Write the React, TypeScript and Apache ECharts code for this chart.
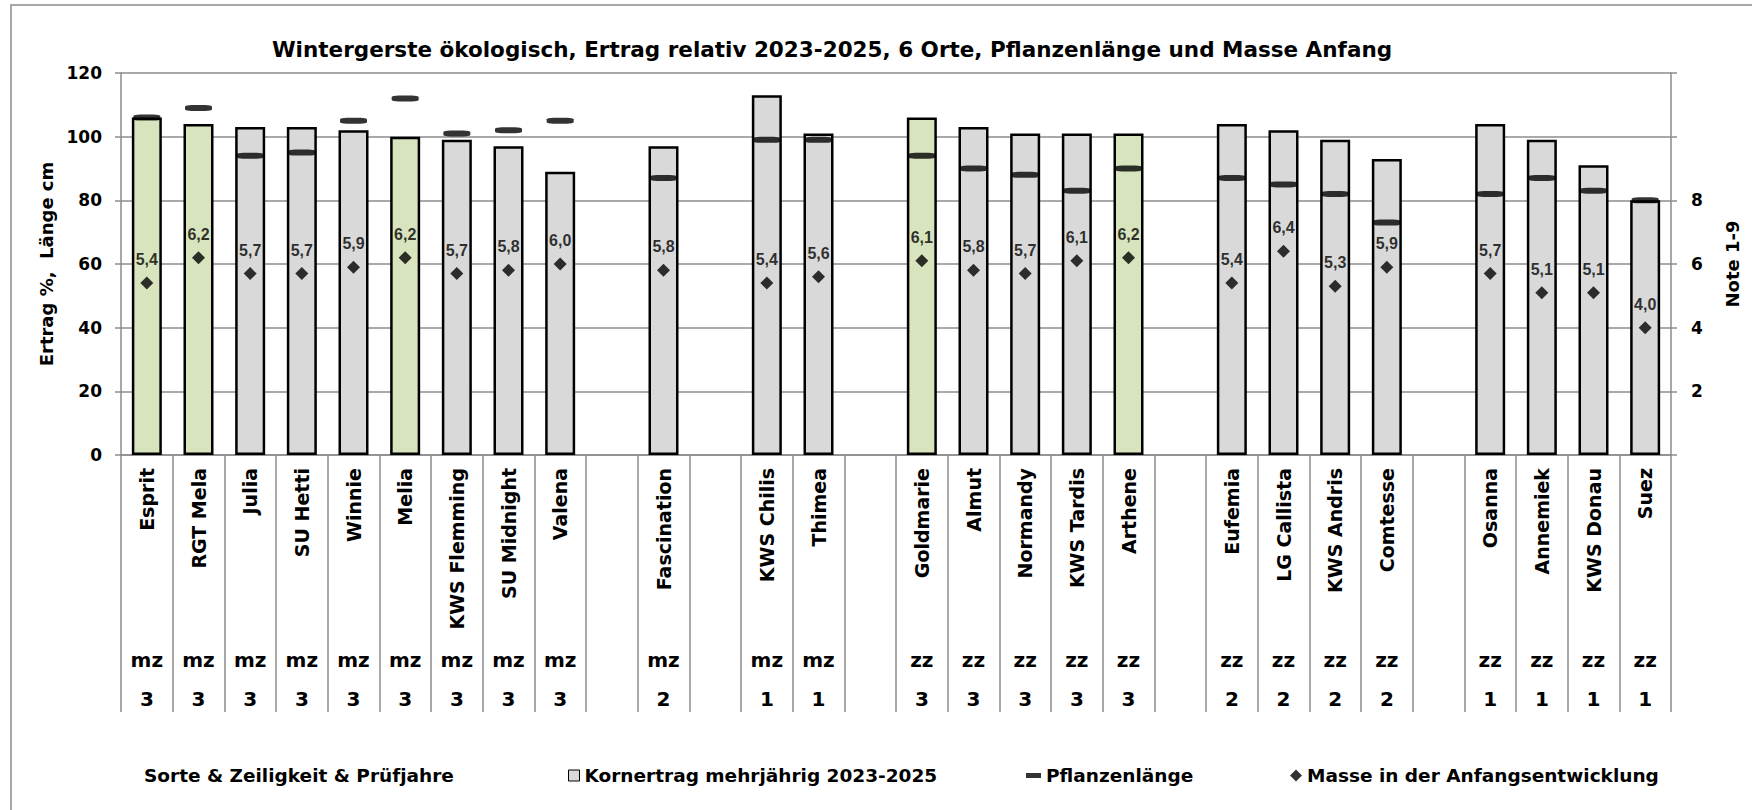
import React, { useEffect, useRef } from 'react';
import * as echarts from 'echarts';

const varieties = [
  'Esprit', 'RGT Mela', 'Julia', 'SU Hetti', 'Winnie', 'Melia', 'KWS Flemming', 'SU Midnight', 'Valena', ' ',
  'Fascination', '  ',
  'KWS Chilis', 'Thimea', '   ',
  'Goldmarie', 'Almut', 'Normandy', 'KWS Tardis', 'Arthene', '    ',
  'Eufemia', 'LG Callista', 'KWS Andris', 'Comtesse', '     ',
  'Osanna', 'Annemiek', 'KWS Donau', 'Suez',
];
const rowType = [
  'mz', 'mz', 'mz', 'mz', 'mz', 'mz', 'mz', 'mz', 'mz', '',
  'mz', '',
  'mz', 'mz', '',
  'zz', 'zz', 'zz', 'zz', 'zz', '',
  'zz', 'zz', 'zz', 'zz', '',
  'zz', 'zz', 'zz', 'zz',
];
const testYears = [
  '3', '3', '3', '3', '3', '3', '3', '3', '3', '',
  '2', '',
  '1', '1', '',
  '3', '3', '3', '3', '3', '',
  '2', '2', '2', '2', '',
  '1', '1', '1', '1',
];
const yieldRel = [
  106, 104, 103, 103, 102, 100, 99, 97, 89, null,
  97, null,
  113, 101, null,
  106, 103, 101, 101, 101, null,
  104, 102, 99, 93, null,
  104, 99, 91, 80,
];
const plantHeight = [
  106, 109, 94, 95, 105, 112, 101, 102, 105, null,
  87, null,
  99, 99, null,
  94, 90, 88, 83, 90, null,
  87, 85, 82, 73, null,
  82, 87, 83, 80,
];
const earlyMass = [
  5.4, 6.2, 5.7, 5.7, 5.9, 6.2, 5.7, 5.8, 6.0, null,
  5.8, null,
  5.4, 5.6, null,
  6.1, 5.8, 5.7, 6.1, 6.2, null,
  5.4, 6.4, 5.3, 5.9, null,
  5.7, 5.1, 5.1, 4.0,
];
const checkVarieties = ['Esprit', 'RGT Mela', 'Melia', 'Goldmarie', 'Arthene'];

const TITLE = 'Wintergerste ökologisch, Ertrag relativ 2023-2025, 6 Orte, Pflanzenlänge und Masse Anfang';
const S_SORTE = 'Sorte & Zeiligkeit & Prüfjahre';
const S_YIELD = 'Kornertrag mehrjährig 2023-2025';
const S_HEIGHT = 'Pflanzenlänge';
const S_MASS = 'Masse in der Anfangsentwicklung';

const GREEN = '#d7e4bd';
const GRAY = '#d9d9d9';
const LINE = '#8c8c8c';
const FONT = 'DejaVu Sans';

export default function App() {
  const ref = useRef<HTMLDivElement>(null);
  useEffect(() => {
    const chart = echarts.init(ref.current as HTMLDivElement, null, { renderer: 'svg' });
    const bold = { fontFamily: FONT, fontWeight: 'bold' as const, color: '#000' };
    const legendBase = {
      top: 766,
      padding: 0,
      itemGap: 0,
      selectedMode: false,
      textStyle: { ...bold, fontSize: 18.5 },
    };
    chart.setOption({
      animation: false,
      backgroundColor: '#fff',
      graphic: [
        {
          type: 'rect',
          silent: true,
          z: -10,
          shape: { x: 11, y: 5, width: 1760, height: 820 },
          style: { fill: 'none', stroke: LINE, lineWidth: 1.5 },
        },
        {
          type: 'text',
          x: 832,
          y: 49,
          silent: true,
          style: {
            text: TITLE,
            fill: '#000',
            font: `bold 21.5px "${FONT}"`,
            align: 'center',
            verticalAlign: 'middle',
            textAlign: 'center',
            textVerticalAlign: 'middle',
          },
        },
      ],
      legend: [
        { ...legendBase, left: 139, data: [{ name: S_SORTE, icon: 'none' }], itemWidth: 0, itemHeight: 11 },
        {
          ...legendBase, left: 568, itemWidth: 11, itemHeight: 11,
          data: [{ name: S_YIELD, icon: 'rect', itemStyle: { color: GRAY, borderColor: '#000', borderWidth: 1 } }],
        },
        {
          ...legendBase, left: 1026, itemWidth: 15, itemHeight: 5,
          data: [{ name: S_HEIGHT, icon: 'rect', itemStyle: { color: '#000' } }],
        },
        {
          ...legendBase, left: 1290, itemWidth: 12, itemHeight: 12,
          data: [{ name: S_MASS, icon: 'diamond', itemStyle: { color: '#000' } }],
        },
      ],
      grid: { left: 121, right: 81, top: 73, bottom: 355 },
      xAxis: [
        {
          type: 'category',
          data: varieties,
          position: 'bottom',
          axisLine: { show: true, lineStyle: { color: LINE, width: 1.5 } },
          axisTick: { show: true, interval: 0, length: 257, lineStyle: { color: LINE, width: 1.5 } },
          axisLabel: { interval: 0, rotate: 90, margin: 13, ...bold, fontSize: 19 },
          splitLine: { show: false },
        },
        {
          type: 'category',
          data: rowType,
          position: 'bottom',
          offset: 195,
          axisLine: { show: false },
          axisTick: { show: false },
          axisLabel: { interval: 0, margin: 0, ...bold, fontSize: 20 },
        },
        {
          type: 'category',
          data: testYears,
          position: 'bottom',
          offset: 234,
          axisLine: { show: false },
          axisTick: { show: false },
          axisLabel: { interval: 0, margin: 0, ...bold, fontSize: 20 },
        },
      ],
      yAxis: [
        {
          type: 'value',
          min: 0,
          max: 120,
          interval: 20,
          position: 'left',
          name: 'Ertrag %,  Länge cm',
          nameLocation: 'middle',
          nameRotate: 90,
          nameGap: 58,
          nameTextStyle: { ...bold, fontSize: 18 },
          axisLine: { show: true, lineStyle: { color: LINE, width: 1.5 } },
          axisTick: { show: true, length: 6, lineStyle: { color: LINE, width: 1.5 } },
          axisLabel: { margin: 19, ...bold, fontSize: 17 },
          splitLine: { show: true, lineStyle: { color: LINE, width: 1.5 } },
        },
        {
          type: 'value',
          min: 0,
          max: 12,
          interval: 2,
          position: 'right',
          name: 'Note 1-9',
          nameLocation: 'middle',
          nameRotate: 90,
          nameGap: 52,
          nameTextStyle: { ...bold, fontSize: 18 },
          axisLine: { show: true, lineStyle: { color: LINE, width: 1.5 } },
          axisTick: { show: true, length: 6, lineStyle: { color: LINE, width: 1.5 } },
          axisLabel: {
            margin: 20,
            ...bold,
            fontSize: 17,
            formatter: (v: number) => (v >= 2 && v <= 8 ? String(v) : ''),
          },
          splitLine: { show: false },
        },
      ],
      series: [
        { name: S_SORTE, type: 'line', data: [] },
        {
          name: S_YIELD,
          type: 'bar',
          xAxisIndex: 0,
          yAxisIndex: 0,
          barWidth: 30,
          z: 2,
          itemStyle: { color: GRAY, borderColor: '#000', borderWidth: 2.5 },
          data: yieldRel.map((v, i) =>
            v == null
              ? '-'
              : { value: v, itemStyle: { color: checkVarieties.includes(varieties[i]) ? GREEN : GRAY } }
          ),
        },
        {
          name: S_HEIGHT,
          type: 'scatter',
          xAxisIndex: 0,
          yAxisIndex: 0,
          symbol: 'roundRect',
          symbolSize: [27, 6],
          z: 4,
          itemStyle: { color: '#000' },
          data: plantHeight.map((v) => (v == null ? '-' : v)),
        },
        {
          name: S_MASS,
          type: 'scatter',
          xAxisIndex: 0,
          yAxisIndex: 1,
          symbol: 'diamond',
          symbolSize: 13,
          z: 5,
          itemStyle: { color: '#000' },
          label: {
            show: true,
            position: 'top',
            distance: 9,
            fontFamily: 'Liberation Sans',
            fontWeight: 'bold',
            fontSize: 16,
            color: '#000',
            formatter: (p: any) => Number(p.value).toFixed(1).replace('.', ','),
          },
          data: earlyMass.map((v) => (v == null ? '-' : v)),
        },
      ],
    });
    return () => chart.dispose();
  }, []);
  return (
    <div
      ref={ref}
      style={{ position: 'fixed', left: 0, top: 0, width: 1752, height: 810, background: '#fff' }}
    />
  );
}
